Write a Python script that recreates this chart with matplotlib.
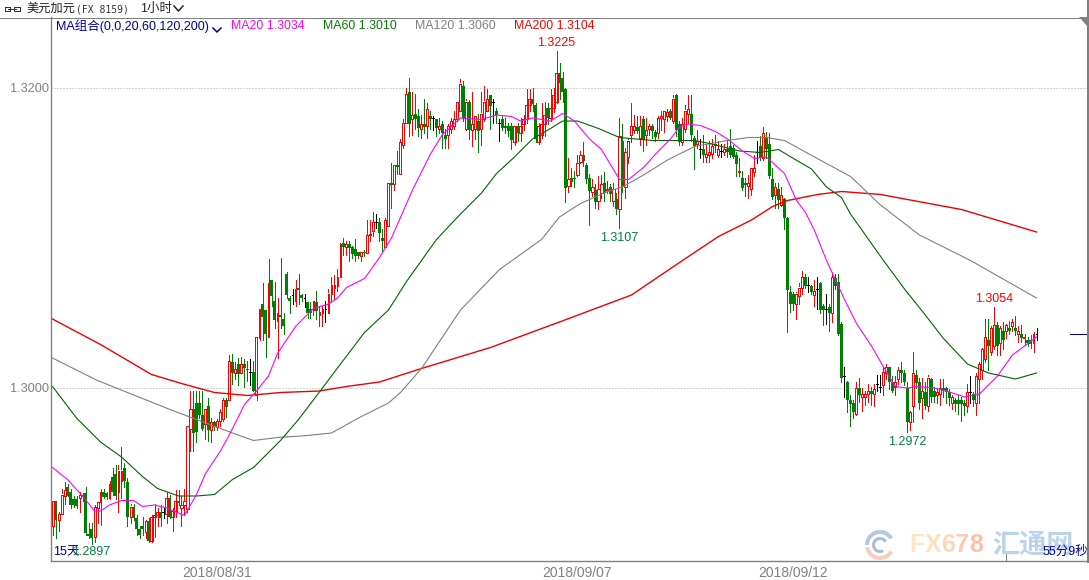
import matplotlib
matplotlib.use("Agg")
import matplotlib.pyplot as plt
import numpy as np
from matplotlib.patches import Polygon, Wedge

plt.rcParams['font.family'] = ['Liberation Sans', 'Noto Sans CJK SC', 'DejaVu Sans']

W, H = 1089, 580

# hourly candles, in 1/10000 above 1.0 (2908 -> 1.2908)
opens = [
    2908, 2925, 2912, 2916, 2928, 2934, 2931, 2926, 2926, 2927,
    2929, 2930, 2903, 2906, 2901, 2920, 2924, 2931, 2930, 2927,
    2941, 2943, 2931, 2938, 2947, 2937, 2914, 2921, 2913, 2906,
    2908, 2904, 2911, 2898, 2914, 2915, 2917, 2917, 2916, 2927,
    2914, 2918, 2925, 2920, 2922, 2919, 2973, 2986, 2990, 2990,
    2982, 2976, 2988, 2972, 2977, 2974, 2978, 2979, 2992, 2992,
    3017, 3010, 3016, 3010, 3016, 3013, 3011, 3011, 2995, 3033,
    3056, 3052, 3034, 3072, 3058, 3045, 3049, 3046, 3076, 3060,
    3062, 3058, 3067, 3062, 3060, 3057, 3053, 3052, 3057, 3049,
    3050, 3053, 3050, 3063, 3067, 3068, 3074, 3097, 3094, 3096,
    3094, 3093, 3091, 3088, 3091, 3090, 3102, 3105, 3111, 3111,
    3100, 3094, 3108, 3137, 3136, 3149, 3143, 3162, 3177, 3197,
    3179, 3183, 3181, 3173, 3176, 3175, 3181, 3180, 3179, 3173,
    3176, 3169, 3169, 3173, 3175, 3179, 3185, 3201, 3173, 3191,
    3172, 3173, 3178, 3173, 3179, 3185, 3195, 3191, 3185, 3177,
    3179, 3175, 3175, 3175, 3164, 3175, 3170, 3176, 3179, 3189,
    3193, 3189, 3164, 3169, 3176, 3187, 3180, 3187, 3191, 3210,
    3207, 3199, 3135, 3140, 3140, 3142, 3151, 3155, 3149, 3140,
    3131, 3132, 3125, 3130, 3137, 3132, 3134, 3125, 3126, 3119,
    3165, 3134, 3154, 3169, 3172, 3174, 3167, 3179, 3169, 3173,
    3175, 3171, 3170, 3180, 3179, 3181, 3185, 3178, 3195, 3176,
    3164, 3173, 3183, 3183, 3167, 3163, 3159, 3159, 3154, 3155,
    3156, 3163, 3155, 3158, 3157, 3159, 3161, 3160, 3155, 3144,
    3140, 3137, 3135, 3133, 3144, 3157, 3161, 3153, 3167, 3163,
    3139, 3129, 3133, 3122, 3126, 3113, 3064, 3063, 3056, 3061,
    3067, 3074, 3069, 3068, 3062, 3066, 3070, 3055, 3053, 3054,
    3050, 3073, 3071, 3043, 3008, 3004, 2992, 2990, 2983, 3000,
    2994, 2994, 2996, 2998, 2996, 3003, 3001, 3002, 3010, 3014,
    3004, 3001, 3006, 3012, 3010, 3000, 2977, 2988, 3009, 3004,
    2993, 2997, 2988, 3006, 2998, 2995, 2996, 3000, 3000, 2997,
    2990, 2992, 2992, 2992, 2990, 2988, 2997, 2996, 2990, 3006,
    3012, 3019, 3032, 3024, 3028, 3042, 3030, 3038, 3038, 3040,
    3041, 3040, 3036, 3036, 3033, 3032, 3032, 3030, 3036,
]
closes = [
    2925, 2912, 2916, 2929, 2932, 2928, 2922, 2922, 2921, 2929,
    2927, 2903, 2901, 2900, 2921, 2924, 2931, 2927, 2927, 2936,
    2931, 2928, 2945, 2945, 2938, 2914, 2921, 2913, 2906, 2902,
    2906, 2911, 2898, 2914, 2915, 2917, 2913, 2917, 2927, 2914,
    2918, 2925, 2923, 2922, 2925, 2975, 2986, 2970, 2971, 2982,
    2973, 2986, 2972, 2977, 2974, 2978, 2984, 2992, 2987, 3018,
    3010, 3013, 3009, 3016, 3013, 3012, 3011, 2998, 3034, 3053,
    3047, 3036, 3070, 3061, 3045, 3050, 3047, 3041, 3062, 3058,
    3062, 3066, 3065, 3060, 3060, 3050, 3050, 3058, 3051, 3051,
    3053, 3053, 3063, 3069, 3069, 3074, 3096, 3094, 3096, 3093,
    3089, 3088, 3088, 3091, 3090, 3102, 3103, 3111, 3111, 3103,
    3098, 3112, 3137, 3135, 3149, 3147, 3164, 3177, 3196, 3176,
    3182, 3179, 3173, 3176, 3174, 3186, 3179, 3180, 3173, 3175,
    3170, 3166, 3175, 3178, 3179, 3191, 3203, 3179, 3191, 3172,
    3176, 3181, 3171, 3183, 3191, 3193, 3188, 3191, 3182, 3177,
    3173, 3173, 3171, 3165, 3175, 3170, 3175, 3179, 3189, 3193,
    3189, 3166, 3175, 3176, 3182, 3180, 3187, 3195, 3210, 3203,
    3197, 3133, 3139, 3137, 3139, 3150, 3155, 3151, 3139, 3131,
    3134, 3124, 3133, 3136, 3130, 3133, 3129, 3133, 3119, 3168,
    3135, 3157, 3165, 3175, 3175, 3171, 3175, 3165, 3172, 3175,
    3171, 3167, 3180, 3181, 3185, 3184, 3180, 3193, 3172, 3164,
    3176, 3185, 3186, 3169, 3161, 3165, 3159, 3155, 3156, 3157,
    3161, 3161, 3159, 3158, 3159, 3157, 3155, 3154, 3149, 3145,
    3133, 3135, 3137, 3147, 3147, 3157, 3153, 3170, 3159, 3141,
    3127, 3134, 3125, 3129, 3113, 3065, 3056, 3056, 3063, 3067,
    3074, 3068, 3069, 3064, 3065, 3066, 3052, 3052, 3053, 3050,
    3074, 3068, 3036, 3007, 3008, 2992, 2989, 2984, 3000, 2995,
    2996, 2996, 2998, 2996, 2999, 3003, 3001, 3011, 3014, 3004,
    2998, 3004, 3012, 3010, 3004, 2977, 2984, 3010, 3003, 2990,
    2998, 2988, 3007, 2994, 2994, 2997, 3000, 2998, 2997, 2993,
    2994, 2989, 2989, 2989, 2988, 2997, 2997, 2992, 3008, 3016,
    3026, 3034, 3028, 3040, 3042, 3028, 3040, 3032, 3042, 3038,
    3044, 3038, 3038, 3033, 3034, 3030, 3029, 3036, 3036,
]
highs = [
    2925, 2925, 2917, 2933, 2937, 2936, 2933, 2928, 2928, 2931,
    2930, 2934, 2910, 2910, 2922, 2924, 2933, 2933, 2931, 2938,
    2947, 2949, 2949, 2961, 2950, 2940, 2923, 2923, 2915, 2908,
    2914, 2912, 2913, 2915, 2923, 2920, 2922, 2920, 2931, 2929,
    2920, 2932, 2932, 2928, 2933, 2975, 2998, 2998, 2998, 2998,
    2998, 2986, 2993, 2980, 2978, 2979, 2986, 2993, 2993, 3022,
    3023, 3017, 3020, 3021, 3019, 3018, 3019, 3018, 3034, 3053,
    3070, 3052, 3086, 3072, 3071, 3060, 3087, 3050, 3077, 3061,
    3066, 3072, 3076, 3063, 3063, 3057, 3057, 3058, 3065, 3055,
    3055, 3058, 3066, 3074, 3075, 3079, 3097, 3100, 3098, 3098,
    3095, 3099, 3091, 3091, 3092, 3112, 3112, 3117, 3116, 3113,
    3106, 3113, 3137, 3150, 3149, 3158, 3166, 3179, 3200, 3207,
    3197, 3196, 3186, 3182, 3193, 3190, 3185, 3181, 3179, 3180,
    3178, 3173, 3176, 3180, 3185, 3191, 3206, 3205, 3193, 3192,
    3197, 3181, 3183, 3197, 3201, 3199, 3195, 3193, 3187, 3179,
    3181, 3180, 3177, 3177, 3175, 3177, 3180, 3182, 3199, 3199,
    3200, 3190, 3177, 3190, 3191, 3190, 3199, 3200, 3225, 3217,
    3211, 3200, 3153, 3147, 3145, 3155, 3158, 3164, 3150, 3143,
    3139, 3136, 3141, 3142, 3144, 3138, 3136, 3137, 3130, 3180,
    3176, 3160, 3167, 3190, 3182, 3181, 3181, 3181, 3180, 3176,
    3176, 3172, 3181, 3185, 3185, 3186, 3186, 3195, 3196, 3178,
    3180, 3189, 3195, 3195, 3168, 3172, 3166, 3169, 3163, 3165,
    3166, 3169, 3165, 3163, 3163, 3165, 3173, 3162, 3157, 3153,
    3145, 3140, 3142, 3147, 3155, 3165, 3168, 3174, 3171, 3170,
    3147, 3137, 3137, 3134, 3127, 3114, 3068, 3064, 3064, 3070,
    3078, 3076, 3074, 3069, 3072, 3074, 3071, 3056, 3063, 3056,
    3077, 3076, 3076, 3044, 3014, 3005, 2995, 2992, 3004, 3007,
    3000, 2998, 3003, 3001, 3003, 3009, 3009, 3014, 3016, 3014,
    3008, 3008, 3014, 3017, 3012, 3004, 2985, 3024, 3012, 3007,
    3007, 3004, 3009, 3007, 3001, 3000, 3006, 3006, 3001, 2999,
    2995, 2993, 2995, 2994, 2992, 3003, 3008, 2997, 3010, 3017,
    3027, 3046, 3046, 3041, 3054, 3044, 3041, 3044, 3043, 3045,
    3046, 3048, 3041, 3042, 3036, 3034, 3035, 3037, 3040,
]
lows = [
    2902, 2900, 2905, 2916, 2923, 2928, 2920, 2921, 2920, 2917,
    2925, 2902, 2900, 2896, 2897, 2910, 2909, 2927, 2926, 2926,
    2929, 2926, 2917, 2927, 2934, 2908, 2910, 2912, 2902, 2900,
    2902, 2900, 2897, 2897, 2901, 2908, 2908, 2913, 2910, 2913,
    2905, 2914, 2922, 2908, 2915, 2917, 2958, 2958, 2964, 2980,
    2972, 2966, 2965, 2964, 2972, 2972, 2975, 2978, 2981, 2992,
    3003, 3006, 3002, 3010, 3001, 3005, 3002, 2998, 2992, 3032,
    3032, 3021, 3034, 3055, 3040, 3020, 3040, 3036, 3060, 3050,
    3056, 3055, 3056, 3058, 3054, 3047, 3047, 3049, 3046, 3041,
    3041, 3044, 3050, 3057, 3059, 3065, 3074, 3089, 3089, 3085,
    3087, 3085, 3087, 3085, 3088, 3090, 3098, 3101, 3107, 3098,
    3091, 3094, 3108, 3120, 3132, 3143, 3143, 3160, 3177, 3168,
    3169, 3173, 3168, 3167, 3170, 3167, 3173, 3172, 3168, 3170,
    3160, 3160, 3160, 3170, 3173, 3178, 3185, 3178, 3172, 3166,
    3161, 3166, 3157, 3162, 3178, 3185, 3173, 3177, 3177, 3165,
    3172, 3170, 3168, 3159, 3162, 3165, 3165, 3172, 3177, 3185,
    3185, 3164, 3163, 3167, 3168, 3176, 3178, 3184, 3190, 3193,
    3191, 3124, 3131, 3135, 3134, 3141, 3150, 3148, 3137, 3109,
    3128, 3120, 3119, 3127, 3125, 3130, 3125, 3121, 3116, 3107,
    3131, 3127, 3150, 3164, 3170, 3170, 3162, 3158, 3162, 3169,
    3167, 3165, 3167, 3172, 3171, 3178, 3179, 3177, 3168, 3162,
    3162, 3171, 3177, 3165, 3146, 3160, 3153, 3151, 3151, 3151,
    3153, 3157, 3154, 3154, 3155, 3154, 3154, 3153, 3141, 3141,
    3132, 3128, 3127, 3129, 3141, 3150, 3152, 3152, 3153, 3140,
    3126, 3120, 3120, 3121, 3106, 3037, 3051, 3052, 3046, 3056,
    3063, 3067, 3064, 3063, 3055, 3053, 3050, 3042, 3043, 3038,
    3044, 3066, 3035, 3004, 2994, 2984, 2975, 2980, 2982, 2991,
    2985, 2989, 2991, 2989, 2988, 2998, 2997, 2995, 3006, 2999,
    2997, 2995, 3003, 3004, 3002, 2971, 2972, 2977, 3000, 2986,
    2980, 2986, 2985, 2991, 2991, 2990, 2989, 2994, 2990, 2989,
    2986, 2985, 2983, 2978, 2982, 2984, 2990, 2988, 2982, 2990,
    3006, 3017, 3012, 3022, 3026, 3022, 3022, 3026, 3033, 3036,
    3038, 3035, 3031, 3031, 3029, 3028, 3027, 3024, 3032,
]

ma20_idx = [0, 5, 10, 14, 16, 19, 23, 27, 30, 34, 38, 44, 48, 51, 56, 59, 64, 68, 72, 75,
            81, 87, 92, 95, 98, 104, 109, 113, 120, 126, 130, 136, 143, 148, 153, 156, 160, 166, 170, 174,
            179, 183, 186, 189, 192, 197, 202, 206, 209, 212, 216, 221, 225, 230, 234, 238, 244, 248, 251, 254,
            258, 261, 264, 268, 273, 277, 281, 285, 288, 294, 298, 304, 309, 315, 320, 328]
ma20_val = [2947, 2939, 2928, 2918, 2918, 2922, 2925, 2925, 2921, 2922, 2920, 2915, 2929, 2943, 2958, 2969, 2989, 2998, 3008, 3023,
            3041, 3053, 3056, 3060, 3067, 3073, 3087, 3100, 3132, 3156, 3169, 3180, 3179, 3182, 3181, 3178, 3180, 3178, 3183, 3178,
            3166, 3159, 3149, 3139, 3139, 3147, 3158, 3166, 3174, 3176, 3175, 3171, 3166, 3158, 3153, 3154, 3143, 3125, 3117, 3105,
            3085, 3072, 3059, 3043, 3028, 3014, 3001, 3000, 3001, 3000, 2998, 2994, 2996, 3008, 3022, 3034]
ma60_idx = [0, 8, 16, 23, 30, 35, 42, 48, 54, 60, 67, 72, 76, 82, 90, 96, 104, 112, 118, 123,
            128, 136, 143, 148, 154, 160, 166, 170, 175, 182, 189, 200, 214, 219, 229, 236, 242, 247, 253, 258,
            263, 266, 277, 284, 290, 297, 305, 312, 321, 328]
ma60_val = [3001, 2980, 2964, 2954, 2941, 2933, 2928, 2928, 2929, 2939, 2947, 2957, 2965, 2979, 3000, 3016, 3037, 3052, 3071, 3085,
            3099, 3116, 3130, 3143, 3154, 3166, 3173, 3178, 3178, 3173, 3167, 3165, 3165, 3163, 3158, 3157, 3159, 3153, 3146, 3134,
            3127, 3116, 3085, 3066, 3051, 3033, 3016, 3010, 3006, 3010]
ma120_idx = [0, 15, 40, 60, 67, 75, 83, 93, 102, 112, 116, 123, 136, 149, 163, 169, 176, 185, 190, 197,
             205, 214, 225, 232, 238, 244, 254, 266, 276, 289, 306, 328]
ma120_val = [3020, 3005, 2985, 2970, 2965, 2967, 2968, 2970, 2980, 2990, 2997, 3013, 3052, 3079, 3099, 3114, 3123, 3131, 3134, 3142,
             3152, 3161, 3165, 3167, 3167, 3165, 3154, 3141, 3122, 3102, 3085, 3060]
ma200_idx = [0, 16, 33, 43, 54, 65, 76, 89, 98, 109, 123, 146, 169, 193, 210, 222, 233, 240, 245, 255,
             263, 276, 303, 328]
ma200_val = [3046, 3029, 3009, 3003, 2997, 2995, 2997, 2998, 3001, 3004, 3013, 3027, 3044, 3062, 3085, 3101, 3112, 3121, 3125, 3129,
             3131, 3129, 3119, 3104]

legend_x = [231, 323, 415, 514]
legend_labels = ['MA20 1.3034', 'MA60 1.3010', 'MA120 1.3060', 'MA200 1.3104']
legend_colors = ['#ff00ff', '#008000', '#808080', '#ff0000']
date_ticks = [55, 175, 247]
date_labels = ['2018/08/31', '2018/09/07', '2018/09/12']

ONE_PX = 0.72  # line width in points that gives one pixel at dpi 100


def to_price(values):
    return 1 + np.asarray(values, dtype=float) / 10000


def draw_candles(ax):
    x = np.arange(len(opens))
    o, c, h, l = map(to_price, (opens, closes, highs, lows))
    up = c > o
    down = c < o
    flat = c == o
    half = 1 / 3  # body walls sit one pixel from the wick column

    ax.vlines(x[up], l[up], h[up], color='#ff0000', lw=ONE_PX, antialiased=False, zorder=2)
    ax.vlines(x[down], l[down], h[down], color='#008000', lw=ONE_PX, antialiased=False, zorder=2)
    ax.vlines(x[flat], l[flat], h[flat], color='black', lw=ONE_PX, antialiased=False, zorder=2)
    ax.hlines(o[flat], x[flat] - half, x[flat] + half, color='black', lw=ONE_PX, antialiased=False, zorder=2)

    # hollow up candles: white inside, red walls
    ax.bar(x[up], (c - o)[up], bottom=o[up], width=2 * half, facecolor='white', lw=0, antialiased=False, zorder=3)
    for edge in (x[up] - half, x[up] + half):
        ax.vlines(edge, o[up], c[up], color='#ff0000', lw=ONE_PX, antialiased=False, zorder=4)
    for level in (o[up], c[up]):
        ax.hlines(level, x[up] - half, x[up] + half, color='#ff0000', lw=ONE_PX, antialiased=False, zorder=4)

    ax.bar(x[down], (c - o)[down], bottom=o[down], width=1.0, facecolor='#008000', lw=0,
           antialiased=False, zorder=3)


def draw_chrome(over):
    # header line, frame corner and the little icons
    over.plot([0, 1088], [17.5, 17.5], color='#808080', lw=ONE_PX, antialiased=False)
    over.plot([1088, 1088], [0, 561], color='#808080', lw=1, antialiased=False)
    over.plot([1005.5, 1005.5], [552, 561], color='#808080', lw=ONE_PX, antialiased=False)
    over.add_patch(Polygon([[1079, 17], [1088, 17], [1088, 27]], closed=True, color='#808080', lw=0))
    over.plot([5, 10, 10, 5, 5], [6.5, 6.5, 10.5, 10.5, 6.5], color='#333333', lw=ONE_PX, antialiased=False)
    over.plot([14, 20, 20, 14, 14], [6.5, 6.5, 10.5, 10.5, 6.5], color='#333333', lw=ONE_PX, antialiased=False)
    over.plot([8, 16], [8.5, 8.5], color='#333333', lw=ONE_PX, antialiased=False)
    over.plot([174, 178.5, 183], [6, 11, 6], color='#222222', lw=1.1)
    over.plot([213, 217, 221], [28, 32, 28], color='#000080', lw=1.1)

    over.text(26, 9, '美元加元', fontsize=8.8, color='#222222', va='center')
    over.text(76, 9, '(FX 8159)', fontsize=7, color='#333333', va='center', family='DejaVu Sans Mono')
    over.text(140, 9, '1小时', fontsize=9, color='#222222', va='center')
    over.text(56, 26, 'MA组合(0,0,20,60,120,200)', fontsize=9, color='#0000a0', va='center')
    for x, label, color in zip(legend_x, legend_labels, legend_colors):
        over.text(x, 26, label, fontsize=8.9, color=color, va='center')

    # watermark
    center = (880, 545)
    over.add_patch(Wedge(center, 15, 180, 330, width=4, color='#b4c8e2', lw=0))
    over.add_patch(Wedge(center, 15, 30, 170, width=4, color='#f9cdb8', lw=0))
    over.add_patch(Wedge(center, 8, 60, 330, width=3, color='#a9bcd2', lw=0))
    letter_x = [909, 924.3, 941, 954.9, 968.8]
    letter_colors = ['#fee6c4', '#fee0bd', '#fed6b4', '#fecbae', '#ffbfa8']
    for lx, ch, color in zip(letter_x, 'FX678', letter_colors):
        over.text(lx, 545, ch, fontsize=18, fontweight='bold', color=color, va='center')
    over.text(992, 545, '汇通网', fontsize=19.5, fontweight='bold', color='#bcd2ea', va='center',
              family='Noto Sans CJK SC')

    over.text(53, 552, '15天', fontsize=9, color='#0000a0', va='center')
    over.text(110, 552, '1.2897', fontsize=9, color='#008040', va='center', ha='right')
    over.text(1043, 552, '55分9秒', fontsize=9, color='#0000a0', va='center')


def main():
    fig = plt.figure(figsize=(W / 100, H / 100), dpi=100, facecolor='white')
    ax = fig.add_axes([51 / W, 1 - 561 / H, (1088 - 51) / W, (561 - 17) / H])
    # candle 0 falls on the centre of pixel column 52
    ax.set_xlim(-0.5, (1088 - 52.5) / 3)
    ax.set_ylim(1 + (3000 - 173 / 1.5) / 10000, 1 + (3000 + 371 / 1.5) / 10000)

    for spine in ('top', 'right'):
        ax.spines[spine].set_visible(False)
    for spine in ('left', 'bottom'):
        ax.spines[spine].set_color('#808080')
        ax.spines[spine].set_linewidth(1)

    ax.set_yticks([1.30, 1.32])
    ax.set_yticklabels(['1.3000', '1.3200'], color='#808080', fontsize=9.2)
    ax.set_xticks(date_ticks)
    ax.set_xticklabels(date_labels, color='#808080', fontsize=10)
    ax.tick_params(length=0, pad=3.5)
    ax.tick_params(axis='y', pad=1.5)
    ax.grid(axis='y', color='#aaaaaa', lw=ONE_PX, ls=(0, (1, 2)))
    ax.set_axisbelow(True)

    draw_candles(ax)

    ax.plot(ma200_idx, to_price(ma200_val), color='#ee0000', lw=1, zorder=5)
    ax.plot(ma120_idx, to_price(ma120_val), color='#808080', lw=0.8, zorder=5)
    ax.plot(ma60_idx, to_price(ma60_val), color='#006400', lw=0.8, zorder=5)
    ax.plot(ma20_idx, to_price(ma20_val), color='#ff00ff', lw=0.8, zorder=6)

    ax.text(168, 1.3225 + 0.0001, '1.3225', color='#ff0000', fontsize=9, ha='center', va='bottom')
    ax.text(189, 1.3107 - 0.0003, '1.3107', color='#008040', fontsize=9, ha='center', va='top')
    ax.text(285, 1.2972 - 0.0004, '1.2972', color='#008040', fontsize=9, ha='center', va='top')
    ax.text(314, 1.3054 + 0.0001, '1.3054', color='#ff0000', fontsize=9, ha='center', va='bottom')
    # last price marker on the right edge
    ax.hlines(to_price(closes[-1]), 339, 345.33, color='#000080', lw=ONE_PX, antialiased=False)

    over = fig.add_axes([0, 0, 1, 1], facecolor='none')
    over.set_xlim(0, W)
    over.set_ylim(H, 0)
    over.axis('off')
    draw_chrome(over)

    fig.savefig('out.png', dpi=100)


if __name__ == '__main__':
    main()
